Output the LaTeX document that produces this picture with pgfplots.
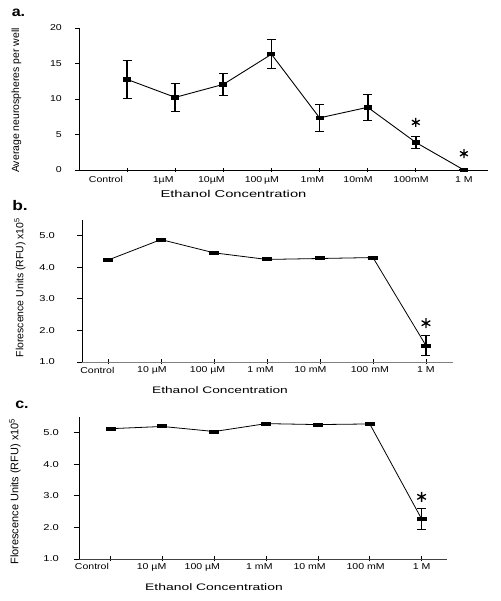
\documentclass[border=0pt]{standalone}
\usepackage{pgfplots}
\pgfplotsset{compat=1.18}
\usepackage{fontspec}
\setmainfont{Liberation Sans}
\usepackage{graphicx}

\pgfdeclareplotmark{hbarA}{\pgfpathrectangle{\pgfpoint{-4bp}{-2.2bp}}{\pgfpoint{8bp}{4.4bp}}\pgfusepathqfill}
\pgfdeclareplotmark{hbarB}{\pgfpathrectangle{\pgfpoint{-5bp}{-2bp}}{\pgfpoint{10bp}{4bp}}\pgfusepathqfill}

\newcommand{\tl}[1]{\scalebox{1.23}[1]{#1}}
\newcommand{\yl}[1]{\scalebox{1.3}[1]{#1}}

\pgfplotsset{
  panel/.style={
    scale only axis, height=142bp, clip=false,
    axis x line*=bottom, axis y line*=left,
    axis line style={-, line width=0.9pt},
    tick style={black, line width=0.8pt},
    major tick length=4bp,
    xtick align=center, ytick align=outside,
    tick label style={font=\fontsize{8.6}{10}\selectfont},
    /pgf/number format/assume math mode=true,
    xticklabels={,,,,,,,,},
    extra x tick style={major tick length=0pt, tick style={draw=none}},
    xticklabel style={anchor=north, inner sep=0pt},
    yticklabel style={anchor=east, inner sep=0pt},
  }
}

\pgfplotstableread{
x y e
0 12.76 2.70
1 10.23 1.93
2 12.06 1.50
3 16.30 2.03
4 7.34 1.85
5 8.83 1.87
6 3.88 0.80
7 0.00 0.00
}\dataA

\pgfplotstableread{
x y e
0 4.23 0
1 4.88 0
2 4.46 0
3 4.25 0
4 4.28 0
5 4.31 0
6 1.52 0.32
}\dataB

\pgfplotstableread{
x y e
0 5.13 0
1 5.20 0
2 5.04 0
3 5.29 0
4 5.26 0
5 5.28 0
6 2.27 0.34
}\dataC

\begin{document}
\begin{tikzpicture}
\useasboundingbox (0,0) rectangle (501bp,601bp);

% ---------------- panel a ----------------
\begin{axis}[panel, at={(79bp,431bp)}, anchor=south west, width=409bp,
  xmin=-1, xmax=7.5, ymin=0, ymax=20,
  ytick={0,5,10,15,20}, yticklabels={\tl{0},\tl{5},\tl{10},\tl{15},\tl{20}},
  yticklabel style={xshift=-13bp},
  xtick={0,...,7},
  extra x ticks={-0.44,0.75,1.75,2.8,3.85,4.8,5.9,7.0},
  extra x tick labels={\tl{Control},\tl{1µM},\tl{10µM},\tl{100\,µM},\tl{1mM},\tl{10mM},\tl{100mM},\tl{1 M}},
  xticklabel style={yshift=-6bp},
]
\addplot[black, line width=0.9pt, mark=hbarA,
  error bars/.cd, y dir=both, y explicit,
  error bar style={line width=1.8pt},
  error mark options={line width=1pt, mark size=4.5bp, rotate=90}]
  table[x=x, y=y, y error=e] {\dataA};
\addplot[only marks, black, mark=asterisk, mark size=4.5bp, line width=1.3pt]
  coordinates {(6,6.7) (7,2.3)};
\end{axis}

% ---------------- panel b ----------------
\begin{axis}[panel, at={(82bp,239bp)}, anchor=south west, width=371bp,
  xmin=-0.49, xmax=6.51, ymin=1, ymax=5.5,
  major tick length=5bp,
  x axis line style={gray},
  ytick={1,2,3,4,5}, yticklabels={\yl{1.0},\yl{2.0},\yl{3.0},\yl{4.0},\yl{5.0}},
  yticklabel style={xshift=-22bp},
  xtick={0,...,6},
  extra x ticks={-0.2,0.83,1.88,2.88,3.82,4.94,6.0},
  extra x tick labels={\tl{Control},\tl{10 µM},\tl{100 µM},\tl{1 mM},\tl{10 mM},\tl{100 mM},\tl{1 M}},
  xticklabel style={yshift=-4.7bp},
]
\addplot[black, line width=0.8pt, mark=hbarB,
  error bars/.cd, y dir=both, y explicit,
  error bar style={line width=1.2pt},
  error mark options={line width=0.9pt, mark size=4.5bp, rotate=90}]
  table[x=x, y=y, y error=e] {\dataB};
\addplot[only marks, black, mark=asterisk, mark size=5bp, line width=1.3pt]
  coordinates {(6,2.23)};
\end{axis}

% ---------------- panel c ----------------
\begin{axis}[panel, at={(79bp,42bp)}, anchor=south west, width=368bp,
  xmin=-0.61, xmax=6.49, ymin=1, ymax=5.5,
  major tick length=5bp,
  x axis line style={black!75},
  ytick={1,2,3,4,5}, yticklabels={\yl{1.0},\yl{2.0},\yl{3.0},\yl{4.0},\yl{5.0}},
  yticklabel style={xshift=-15bp},
  xtick={0,...,6},
  extra x ticks={-0.36,0.79,1.77,2.87,3.84,4.92,6.0},
  extra x tick labels={\tl{Control},\tl{10 µM},\tl{100 µM},\tl{1 mM},\tl{10 mM},\tl{100 mM},\tl{1 M}},
  xticklabel style={yshift=-4.5bp},
]
\addplot[black, line width=0.8pt, mark=hbarB,
  error bars/.cd, y dir=both, y explicit,
  error bar style={line width=1.2pt},
  error mark options={line width=0.9pt, mark size=4.5bp, rotate=90}]
  table[x=x, y=y, y error=e] {\dataC};
\addplot[only marks, black, mark=asterisk, mark size=5bp, line width=1.3pt]
  coordinates {(6,2.97)};
\end{axis}

% ---------------- labels ----------------
\node[font=\fontsize{10}{12}\selectfont] at (233.5bp,407.3bp) {\scalebox{1.48}[1]{Ethanol Concentration}};
\node[rotate=90, font=\fontsize{10.5}{12}\selectfont] at (16.5bp,500.5bp) {Average neurospheres per well};
\node[font=\fontsize{14}{16}\selectfont\bfseries] at (18.5bp,588bp) {\scalebox{1.15}[1]{a.}};

\node[font=\fontsize{9.5}{12}\selectfont] at (220bp,211bp) {\scalebox{1.45}[1]{Ethanol Concentration}};
\node[rotate=90, font=\fontsize{10.5}{12}\selectfont] at (20bp,313.5bp) {Florescence Units (RFU) x10\textsuperscript{5}};
\node[font=\fontsize{14}{16}\selectfont\bfseries] at (20bp,395bp) {\scalebox{1.25}[1]{b.}};

\node[font=\fontsize{9.5}{12}\selectfont] at (214bp,14bp) {\scalebox{1.47}[1]{Ethanol Concentration}};
\node[rotate=90, font=\fontsize{11}{12}\selectfont] at (15bp,109.5bp) {Florescence Units (RFU) x10\textsuperscript{5}};
\node[font=\fontsize{14}{16}\selectfont\bfseries] at (22bp,196bp) {\scalebox{1.15}[1]{c.}};
\end{tikzpicture}
\end{document}
